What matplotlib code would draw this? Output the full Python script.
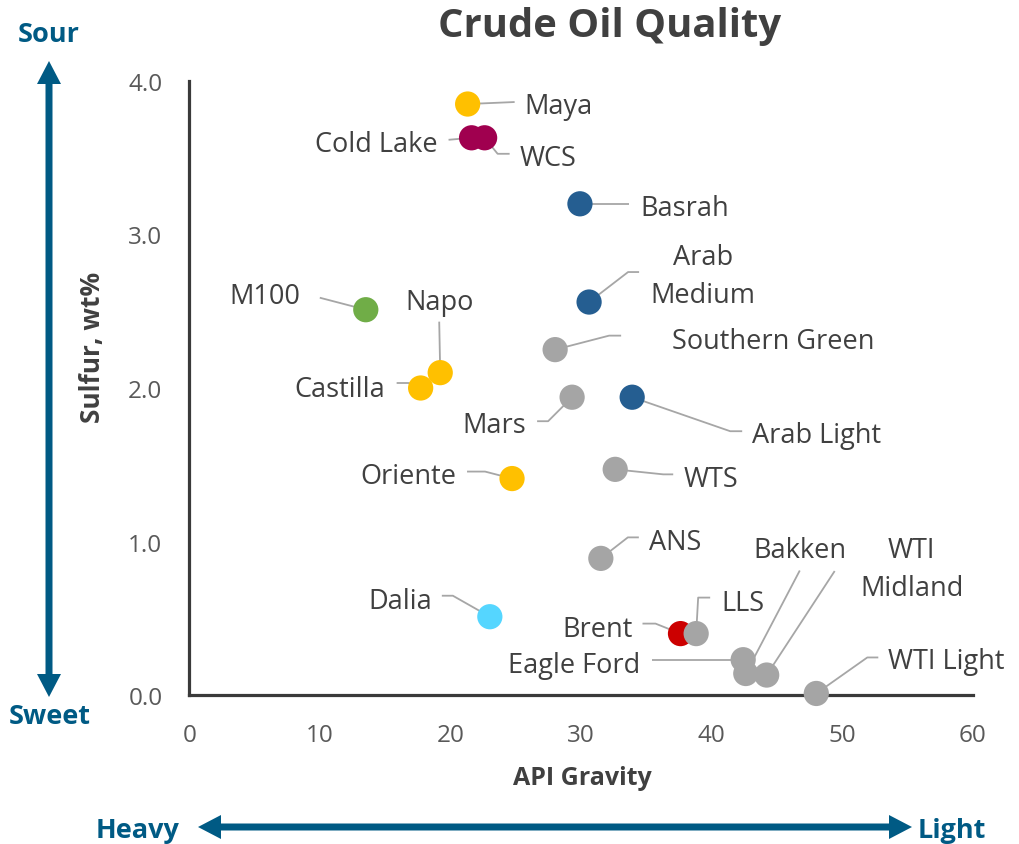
import matplotlib
matplotlib.use("Agg")
import matplotlib.pyplot as plt
from matplotlib.patches import FancyArrow
import numpy as np

# ---------------- data ----------------
crudes = ["Maya", "Cold Lake", "WCS", "Basrah", "Arab\nMedium", "M100", "Southern Green",
          "Napo", "Castilla", "Mars", "Arab Light", "WTS", "Oriente", "ANS", "Dalia",
          "Brent", "LLS", "Eagle Ford", "Bakken", "WTI\nMidland", "WTI Light"]
api_gravity = [21.3, 21.6, 22.6, 29.9, 30.6, 13.5, 28.0,
               19.2, 17.7, 29.3, 33.9, 32.6, 24.7, 31.5, 23.0,
               37.6, 38.8, 42.4, 42.6, 44.2, 48.0]
sulfur = [3.85, 3.63, 3.63, 3.20, 2.56, 2.51, 2.25,
          2.10, 2.00, 1.94, 1.94, 1.47, 1.41, 0.89, 0.51,
          0.40, 0.40, 0.23, 0.14, 0.13, 0.01]
groups = ["Latin", "Canada", "Canada", "MidEast", "MidEast", "M100", "US",
          "Latin", "Latin", "US", "MidEast", "US", "Latin", "US", "Dalia",
          "Brent", "US", "US", "US", "US", "US"]
x_ticks = [0, 10, 20, 30, 40, 50, 60]
y_ticks = [0.0, 1.0, 2.0, 3.0, 4.0]

# ---------------- styles ----------------
group_colors = {"Latin": "#FFC000", "Canada": "#A0004F", "MidEast": "#255E91",
                "M100": "#70AD47", "US": "#A5A5A5", "Dalia": "#55D6FF", "Brent": "#CC0000"}
TXT = "#404040"
ARROW = "#005A84"
LEAD = "#A6A6A6"
FONT = "Open Sans"
LABEL_SIZE = 19.5

# label layout: leader waypoints and text anchor in screen pixels relative to marker (x right, y down)
layout = {
    "Maya": ([(0, 0), (47, -2)], (57, -1), "left"),
    "Cold Lake": ([(0, 0), (-23, 2)], (-34, 3), "right"),
    "WCS": ([(0, 0), (13, 16), (25, 16)], (35, 17), "left"),
    "Basrah": ([(0, 0), (49, 0)], (60, 1), "left"),
    "Arab\nMedium": ([(0, 0), (39, -30), (50, -30)], (114, -29), "center"),
    "M100": ([(0, 0), (-46, -12)], (-66, -17), "right"),
    "Southern Green": ([(0, 0), (54, -14), (66, -14)], (117, -12), "left"),
    "Napo": ([(0, 0), (-1, -51)], (-1, -74), "center"),
    "Castilla": ([(0, 0), (-12, -5), (-24, -5)], (-36, -2), "right"),
    "Mars": ([(0, 0), (-24, 24), (-35, 24)], (-46, 25), "right"),
    "Arab Light": ([(0, 0), (98, 34), (110, 34)], (120, 35), "left"),
    "WTS": ([(0, 0), (48, 5), (58, 5)], (68, 7), "left"),
    "Oriente": ([(0, 0), (-27, -7), (-45, -7)], (-56, -6), "right"),
    "ANS": ([(0, 0), (27, -21), (38, -21)], (48, -19), "left"),
    "Dalia": ([(0, 0), (-37, -21), (-48, -21)], (-58, -19), "right"),
    "Brent": ([(0, 0), (-25, -10), (-38, -10)], (-48, -8), "right"),
    "LLS": ([(0, 0), (2, -36), (14, -36)], (25, -34), "left"),
    "Eagle Ford": ([(0, 0), (-91, 0)], (-103, 2), "right"),
    "Bakken": ([(0, 0), (54, -103)], (54, -127), "center"),
    "WTI\nMidland": ([(0, 0), (68, -104)], (145, -109), "center"),
    "WTI Light": ([(0, 0), (51, -36), (62, -36)], (72, -35), "left"),
}
TEXT_NUDGE = 3  # px down to match visual centring of glyphs

W, H = 1020, 845
fig = plt.figure(figsize=(W / 100, H / 100), dpi=100)
fig.patch.set_facecolor("white")
ax = fig.add_axes([189.5 / W, (H - 696) / H, (973 - 189.5) / W, (696 - 82) / H])
ax.set_xlim(0, 60)
ax.set_ylim(0, 4.0)
ax.set_facecolor("none")
for s in ["top", "right"]:
    ax.spines[s].set_visible(False)
for s in ["left", "bottom"]:
    ax.spines[s].set_color("#3A3A3A")
    ax.spines[s].set_linewidth(2.3)
ax.set_xticks(x_ticks)
ax.set_yticks(y_ticks)
ax.set_xticklabels([str(v) for v in x_ticks])
ax.set_yticklabels([f"{v:.1f}" for v in y_ticks])
ax.tick_params(length=0, labelsize=17.5, labelcolor="#595959")
ax.tick_params(axis="x", pad=20)
ax.tick_params(axis="y", pad=19.5)
for lab in ax.get_xticklabels() + ax.get_yticklabels():
    lab.set_fontfamily(FONT)

# leader lines + labels
fig.canvas.draw()
inv = ax.transData.inverted()
for name, xv, yv in zip(crudes, api_gravity, sulfur):
    pts, toff, ha = layout[name]
    px, py = ax.transData.transform((xv, yv))
    disp = np.array([(px + dx, py - dy) for dx, dy in pts])
    dat = inv.transform(disp)
    ax.plot(dat[:, 0], dat[:, 1], color=LEAD, lw=1.3, zorder=2, solid_capstyle="butt")
    tx, ty = inv.transform((px + toff[0], py - toff[1] - TEXT_NUDGE))
    ax.text(tx, ty, name, ha=ha, va="center", fontsize=LABEL_SIZE, color=TXT,
            family=FONT, linespacing=1.5, zorder=4, multialignment="center")

ax.scatter(api_gravity, sulfur, s=330, c=[group_colors[g] for g in groups],
           edgecolors="none", zorder=3, clip_on=False)

# overlay for decorations (pixel coords)
ov = fig.add_axes([0, 0, 1, 1])
ov.set_xlim(0, W)
ov.set_ylim(H, 0)
ov.axis("off")
ov.patch.set_alpha(0)

ov.text(610, 27, "Crude Oil Quality", ha="center", va="center", fontsize=28.8,
        fontweight="bold", color=TXT, family=FONT)
ov.text(93, 347, "Sulfur, wt%", ha="center", va="center", rotation=90, fontsize=19,
        fontweight="bold", color=TXT, family=FONT)
ov.text(582, 779, "API Gravity", ha="center", va="center", fontsize=18,
        fontweight="bold", color=TXT, family=FONT)

def dbl_arrow(x0, y0, x1, y1):
    mx, my = (x0 + x1) / 2, (y0 + y1) / 2
    for ex, ey in [(x0, y0), (x1, y1)]:
        ov.add_patch(FancyArrow(mx, my, ex - mx, ey - my, width=7, head_width=24,
                                head_length=23, length_includes_head=True,
                                color=ARROW, lw=0))

dbl_arrow(49, 62, 49, 698)
dbl_arrow(198, 828, 912, 828)
ov.text(49, 35, "Sour", ha="center", va="center", fontsize=19.5, fontweight="bold",
        color=ARROW, family=FONT)
ov.text(50, 717, "Sweet", ha="center", va="center", fontsize=19.5, fontweight="bold",
        color=ARROW, family=FONT)
ov.text(138, 831, "Heavy", ha="center", va="center", fontsize=19.5, fontweight="bold",
        color=ARROW, family=FONT)
ov.text(918, 831, "Light", ha="left", va="center", fontsize=19.5, fontweight="bold",
        color=ARROW, family=FONT)

fig.savefig("out.png", dpi=100)
